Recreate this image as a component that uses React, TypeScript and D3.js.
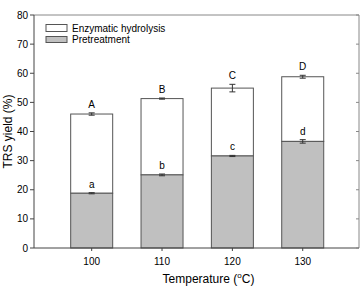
import React from 'react';
import * as d3 from 'd3';

// Data
const temperatures = [100, 110, 120, 130];
const pretreatment = [18.8, 25.1, 31.6, 36.6];
const pretreatmentErr = [0.2, 0.3, 0.2, 0.6];
const totalYield = [46.0, 51.3, 54.9, 58.8];
const totalErr = [0.4, 0.2, 1.3, 0.5];
const upperLetters = ['A', 'B', 'C', 'D'];
const lowerLetters = ['a', 'b', 'c', 'd'];
const yTicks = [0, 10, 20, 30, 40, 50, 60, 70, 80];

const W = 362;
const H = 287;
const margin = { top: 15, right: 3, bottom: 39, left: 34 };
const font = 'Liberation Sans, Arial, sans-serif';

const App: React.FC = () => {
  const x = d3.scaleLinear().domain([91.8, 138]).range([margin.left, W - margin.right]);
  const y = d3.scaleLinear().domain([0, 80]).range([H - margin.bottom, margin.top]);
  const barW = 42;
  const stroke = '#555';
  const errBar = (cx: number, v: number, e: number, key: string) => (
    <g key={key} stroke="#333" strokeWidth={1}>
      <line x1={cx} x2={cx} y1={y(v - e)} y2={y(v + e)} />
      <line x1={cx - 3} x2={cx + 3} y1={y(v - e)} y2={y(v - e)} />
      <line x1={cx - 3} x2={cx + 3} y1={y(v + e)} y2={y(v + e)} />
    </g>
  );
  const x0 = margin.left;
  const x1 = W - margin.right;
  const y0 = y(0);
  const yTop = y(80);
  return (
    <svg width={W} height={H} style={{ position: 'absolute', left: 0, top: 0 }} fontFamily={font}>
      <rect width={W} height={H} fill="#fff" />
      {/* bars */}
      {temperatures.map((t, i) => {
        const cx = x(t);
        return (
          <g key={t}>
            <rect x={cx - barW / 2} y={y(totalYield[i])} width={barW} height={y(pretreatment[i]) - y(totalYield[i])} fill="#fff" stroke={stroke} strokeWidth={1} />
            <rect x={cx - barW / 2} y={y(pretreatment[i])} width={barW} height={y0 - y(pretreatment[i])} fill="#c0c0c0" stroke={stroke} strokeWidth={1} />
            {errBar(cx, totalYield[i], totalErr[i], 'et' + t)}
            {errBar(cx, pretreatment[i], pretreatmentErr[i], 'ep' + t)}
            <text x={cx} y={y(totalYield[i] + totalErr[i]) - 5} textAnchor="middle" fontSize={10}>{upperLetters[i]}</text>
            <text x={cx} y={y(pretreatment[i] + pretreatmentErr[i]) - 5} textAnchor="middle" fontSize={10}>{lowerLetters[i]}</text>
          </g>
        );
      })}
      {/* frame */}
      <line x1={x0} x2={x1} y1={yTop} y2={yTop} stroke="#888" />
      <line x1={x1} x2={x1} y1={yTop} y2={y0} stroke="#888" />
      <line x1={x0} x2={x0} y1={yTop} y2={y0} stroke="#444" />
      <line x1={x0} x2={x1} y1={y0} y2={y0} stroke="#444" />
      {/* y ticks */}
      {yTicks.map(v => (
        <g key={v}>
          <line x1={x0 - 4} x2={x0} y1={y(v)} y2={y(v)} stroke="#444" />
          <line x1={x1 - 3} x2={x1} y1={y(v)} y2={y(v)} stroke="#888" />
          <text x={x0 - 6} y={y(v)} dy="0.35em" textAnchor="end" fontSize={10}>{v}</text>
        </g>
      ))}
      {/* x ticks */}
      {temperatures.map(t => (
        <g key={'x' + t}>
          <line x1={x(t)} x2={x(t)} y1={y0} y2={y0 + 3} stroke="#444" />
          <text x={x(t)} y={y0 + 17} textAnchor="middle" fontSize={10}>{t}</text>
        </g>
      ))}
      {/* axis titles */}
      <text x={(x0 + x1) / 2 + 12} y={283} textAnchor="middle" fontSize={12}>
        Temperature (<tspan dy={-5} fontSize={8}>o</tspan><tspan dy={5}>C)</tspan>
      </text>
      <text transform={`translate(12,${(yTop + y0) / 2}) rotate(-90)`} textAnchor="middle" fontSize={12}>TRS yield (%)</text>
      {/* legend */}
      <rect x={46} y={24.5} width={21} height={7} fill="#fff" stroke={stroke} />
      <text x={72} y={31.5} fontSize={10}>Enzymatic hydrolysis</text>
      <rect x={46} y={36.5} width={21} height={6} fill="#c0c0c0" stroke={stroke} />
      <text x={72} y={43} fontSize={10}>Pretreatment</text>
    </svg>
  );
};

export default App;
